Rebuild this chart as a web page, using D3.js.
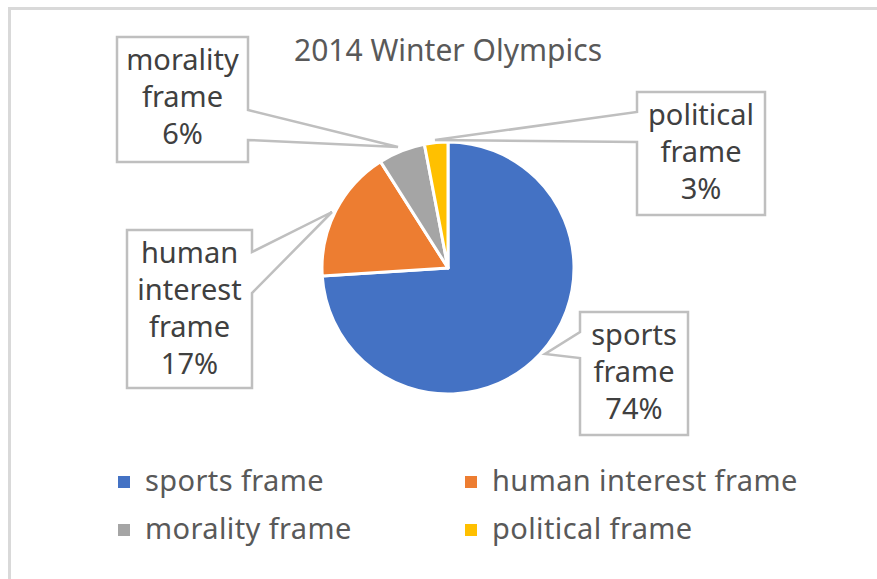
<!doctype html>
<head>
  <script src="https://cdnjs.cloudflare.com/ajax/libs/d3/7.8.5/d3.min.js"></script>
  <style>
    body { margin: 0; background: #fff; }
    svg { display: block; font-family: "Noto Sans", sans-serif; }
  </style>
</head>
<body>
  <svg class="chart" width="877" height="579"></svg>
  <script type="text/javascript">
    // chart data
    var title = "2014 Winter Olympics"
    var categories = ["sports frame", "human interest frame", "morality frame", "political frame"]
    var shares = [74, 17, 6, 3]
    var colors = ["#4472c4", "#ed7d31", "#a5a5a5", "#ffc000"]

    // callout boxes (layout only): box, side of the pointer, pointer base y's, pointer tip
    var callouts = {
      "sports frame":         {x: 580, y: 312, w: 108, h: 123, side: "left",  b: [332, 358], tip: [545, 354]},
      "human interest frame": {x: 127, y: 230, w: 125, h: 158, side: "right", b: [252, 293], tip: [332, 212]},
      "morality frame":       {x: 117, y: 37,  w: 131, h: 125, side: "right", b: [110, 140], tip: [398, 147]},
      "political frame":      {x: 637, y: 92,  w: 128, h: 123, side: "left",  b: [112, 142], tip: [435, 140]}
    }

    var svg = d3.select("svg")
    var cx = 448, cy = 268, radius = 126

    // outer chart border (cut off at right and bottom like the picture)
    svg.append("rect")
      .attr("x", 9.5).attr("y", 8.5).attr("width", 900).attr("height", 600)
      .style("fill", "none").style("stroke", "#d9d9d9").style("stroke-width", 3)

    svg.append("text")
      .attr("x", cx).attr("y", 61)
      .attr("text-anchor", "middle")
      .style("font-size", "30px").style("fill", "#595959")
      .text(title)

    var data = categories.map((c, i) => ({name: c, value: shares[i], color: colors[i]}))

    var pie = d3.pie().sort(null).value(d => d.value)
    var arc = d3.arc().innerRadius(0).outerRadius(radius)

    svg.append("g")
      .attr("transform", "translate(" + cx + "," + cy + ")")
      .selectAll("path")
      .data(pie(data))
      .enter()
      .append("path")
      .attr("d", arc)
      .style("fill", d => d.data.color)
      .style("stroke", "#fff")
      .style("stroke-width", 3)
      .style("stroke-linejoin", "round")

    // callout shape: rectangle with a wedge pointer
    function calloutPath(c) {
      var x0 = c.x, y0 = c.y, x1 = c.x + c.w, y1 = c.y + c.h
      var pts
      if (c.side == "right") {
        pts = [[x0, y0], [x1, y0], [x1, c.b[0]], c.tip, [x1, c.b[1]], [x1, y1], [x0, y1]]
      } else {
        pts = [[x0, y0], [x1, y0], [x1, y1], [x0, y1], [x0, c.b[1]], c.tip, [x0, c.b[0]]]
      }
      return "M" + pts.map(p => p.join(",")).join("L") + "Z"
    }

    var labelG = svg.selectAll("g.callout")
      .data(pie(data))
      .enter()
      .append("g")
      .attr("class", "callout")

    labelG.append("path")
      .attr("d", d => calloutPath(callouts[d.data.name]))
      .style("fill", "#fff")
      .style("stroke", "#bfbfbf")
      .style("stroke-width", 2.5)

    labelG.each(function(d) {
      var c = callouts[d.data.name]
      var lines = d.data.name.split(" ").concat([d.data.value + "%"])
      var t = d3.select(this).append("text")
        .attr("text-anchor", "middle")
        .style("font-size", "29px").style("fill", "#404040")
      lines.forEach((s, i) => {
        t.append("tspan")
          .attr("x", c.x + c.w / 2)
          .attr("y", c.y + 33 + i * 37)
          .text(s)
      })
    })

    // legend
    var legend = svg.selectAll("g.legend")
      .data(data)
      .enter()
      .append("g")
      .attr("class", "legend")
      .attr("transform", (d, i) => "translate(" + (i % 2 == 0 ? 118 : 465) + "," + (491 + Math.floor(i / 2) * 48) + ")")

    legend.append("rect")
      .attr("x", 0).attr("y", -15).attr("width", 12).attr("height", 12)
      .style("fill", d => d.color)

    legend.append("text")
      .attr("x", 27).attr("y", 0)
      .style("font-size", "29px").style("letter-spacing", "0.4px").style("fill", "#595959")
      .text(d => d.name)
  </script>
</body>
</html>
